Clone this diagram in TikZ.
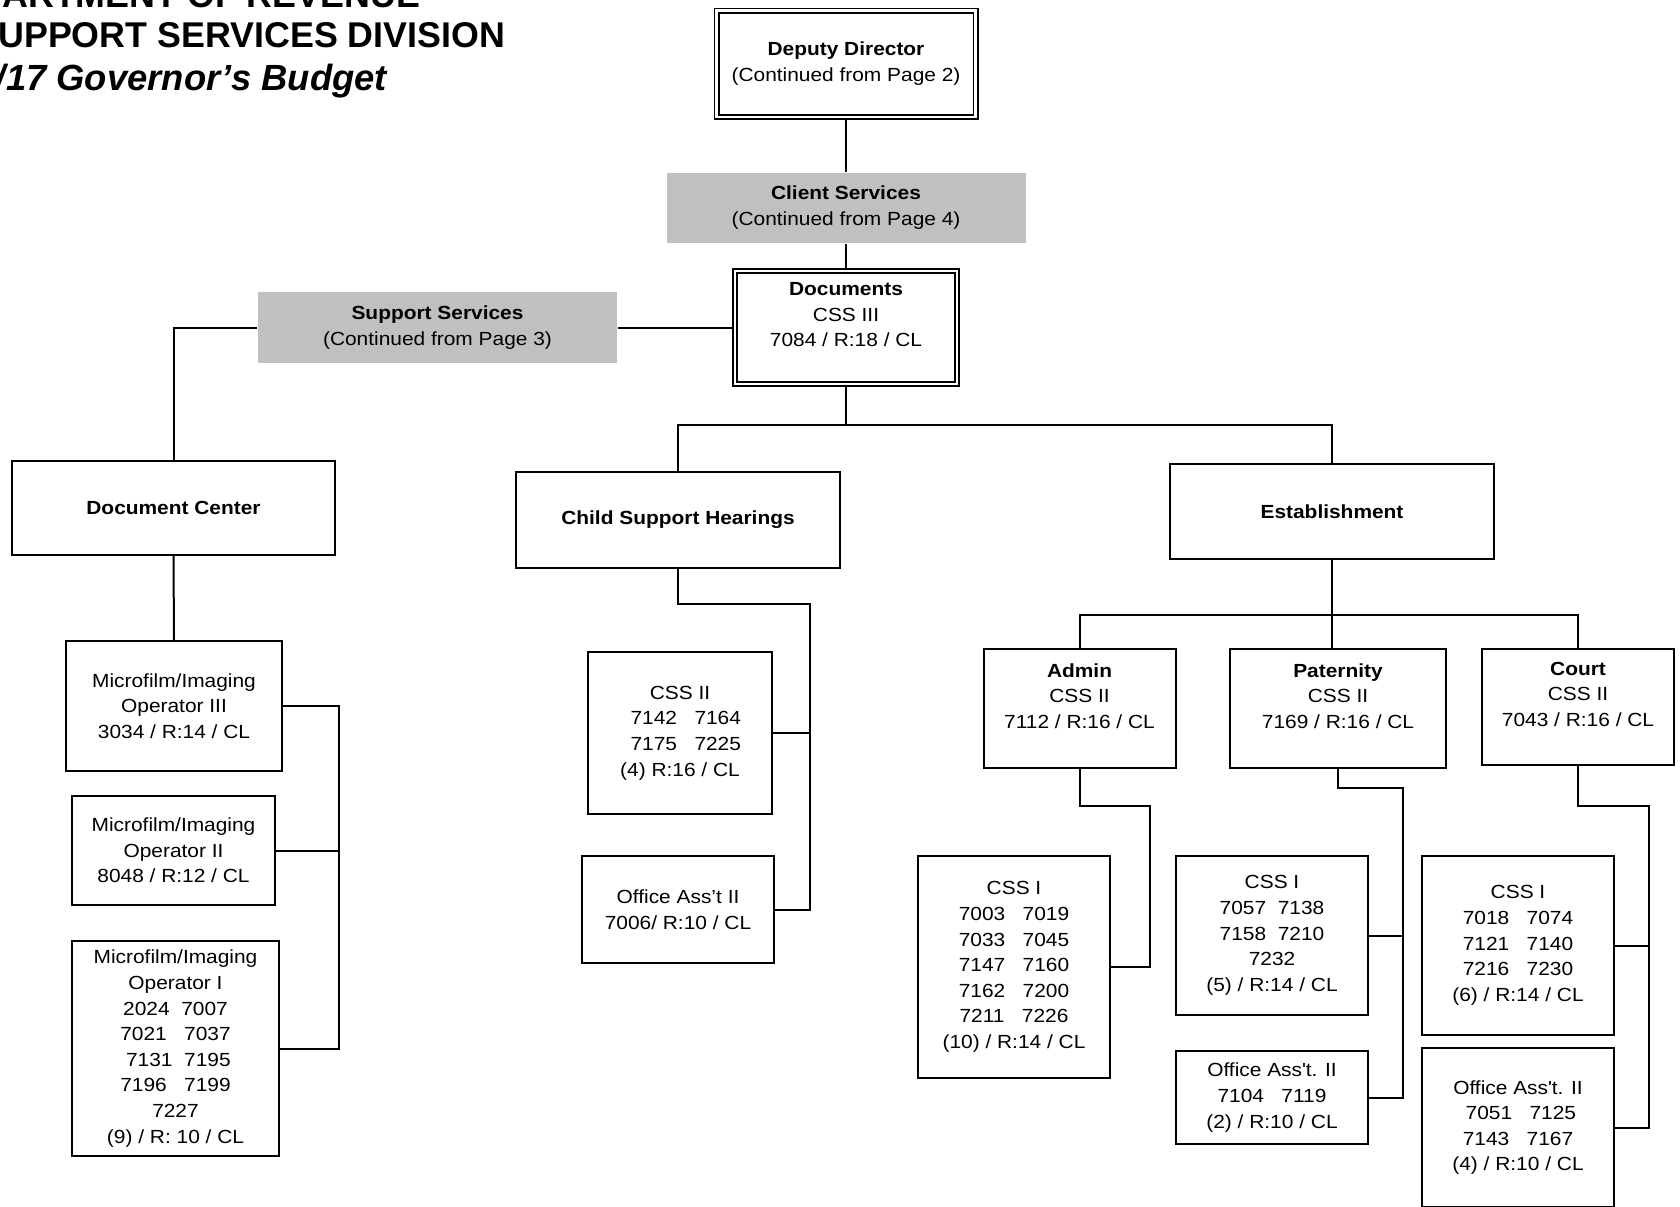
\documentclass[tikz,border=0pt]{standalone}
\usepackage{fontspec}
\setmainfont[FakeStretch=1.1]{Liberation Sans}
\newfontfamily\titlefont{Liberation Sans}
\usetikzlibrary{positioning}

\definecolor{headgray}{RGB}{192,192,192}

\begin{document}
\begin{tikzpicture}[x=0.5pt, y=-0.5pt,
    line width=1pt,
    txt/.style={font=\fontsize{9.5pt}{12.8pt}\selectfont, align=center, inner sep=0pt},
    box/.style={txt, draw},
    dbox/.style={txt, draw, line width=0.8pt, double, double distance=1.4pt},
    graybox/.style={txt, fill=headgray},
    title/.style={font=\titlefont\fontsize{17.9pt}{21pt}\selectfont\bfseries, anchor=base east, inner sep=0pt}
]
    \useasboundingbox (0,0) rectangle (1680,1206);

    %titulo (cortado na margem)
    \node[title] (tit1) at (421,7.3) {ARTMENT OF REVENUE};
    \node[title] (tit2) at (506,47.3) {UPPORT SERVICES DIVISION};
    \node[title, font=\titlefont\fontsize{18.2pt}{21pt}\selectfont\bfseries\itshape] (tit3) at (388,90.7) {/17 Governor’s Budget};

    %topo
    \node[dbox, minimum width=129.5pt, minimum height=53.25pt] (deputy) at (846,63.75)
        {\textbf{Deputy Director}\\(Continued from Page 2)};
    \node[graybox, minimum width=179.5pt, minimum height=35.25pt] (client) at (846,207.75)
        {\textbf{Client Services}\\(Continued from Page 4)};
    \node[dbox, minimum width=111pt, minimum height=56.5pt] (docs) at (846,327.5)
        {\textbf{Documents}\\CSS III\\7084 / R:18 / CL\\\mbox{}};
    \node[graybox, minimum width=179.5pt, minimum height=35.25pt] (support) at (437.5,327.5)
        {\textbf{Support Services}\\(Continued from Page 3)};

    %secoes
    \node[box, minimum width=161.5pt, minimum height=47pt] (doccenter) at (173.5,508)
        {\textbf{Document Center}};
    \node[box, minimum width=162pt, minimum height=47.75pt] (hearings) at (678,520)
        {\textbf{Child Support Hearings}};
    \node[box, minimum width=162pt, minimum height=47.5pt] (estab) at (1332,511.5)
        {\textbf{Establishment}};

    %document center
    \node[box, minimum width=108pt, minimum height=65pt] (micro3) at (174,706)
        {Microfilm/Imaging\\Operator III\\3034 / R:14 / CL};
    \node[box, minimum width=101.5pt, minimum height=54.5pt] (micro2) at (173.5,850.5)
        {Microfilm/Imaging\\Operator II\\8048 / R:12 / CL};
    \node[box, minimum width=103.5pt, minimum height=107.5pt] (micro1) at (175.5,1048.5)
        {Microfilm/Imaging\\Operator I\\2024\ \ 7007\\7021\ \ \ 7037\\\ 7131\ \ 7195\\7196\ \ \ 7199\\7227\\(9) / R: 10 / CL};

    %hearings
    \node[box, minimum width=92.25pt, minimum height=80.75pt] (hcss2) at (680,733)
        {CSS II\\\ \ 7142\ \ \ 7164\\\ \ 7175\ \ \ 7225\\(4) R:16 / CL};
    \node[box, minimum width=95.75pt, minimum height=53.5pt] (hoffice) at (678,909.5)
        {Office Ass’t II\\7006/ R:10 / CL};

    %establishment
    \node[box, minimum width=96pt, minimum height=59.5pt] (admin) at (1079.5,708.5)
        {\textbf{Admin}\\CSS II\\7112 / R:16 / CL\\\mbox{}};
    \node[box, minimum width=108pt, minimum height=59.5pt] (pat) at (1338,708.5)
        {\textbf{Paternity}\\CSS II\\7169 / R:16 / CL\\\mbox{}};
    \node[box, minimum width=95.75pt, minimum height=58pt] (court) at (1578,707)
        {\textbf{Court}\\CSS II\\7043 / R:16 / CL\\\mbox{}};

    \node[box, minimum width=96pt, minimum height=111pt] (acss1) at (1014,967)
        {CSS I\\7003\ \ \ 7019\\7033\ \ \ 7045\\7147\ \ \ 7160\\7162\ \ \ 7200\\7211\ \ \ 7226\\(10) / R:14 / CL};
    \node[box, minimum width=96pt, minimum height=79.5pt] (pcss1) at (1272,935.5)
        {CSS I\\7057\ \ 7138\\7158\ \ 7210\\7232\\(5) / R:14 / CL};
    \node[box, minimum width=96pt, minimum height=46.5pt] (poffice) at (1272,1097.5)
        {Office Ass\textquotesingle t. II\\7104\ \ \ 7119\\(2) / R:10 / CL};
    \node[box, minimum width=95.75pt, minimum height=89.5pt] (ccss1) at (1518,945.5)
        {CSS I\\7018\ \ \ 7074\\7121\ \ \ 7140\\7216\ \ \ 7230\\(6) / R:14 / CL};
    \node[box, minimum width=96pt, minimum height=79.5pt] (coffice) at (1518,1127.5)
        {Office Ass\textquotesingle t. II\\\ 7051\ \ \ 7125\\7143\ \ \ 7167\\(4) / R:10 / CL};

    %pontos de ligacao
    \coordinate (docsbus) at (846,425);
    \coordinate (estbus) at (1332,615);
    \coordinate (mturn) at (338.5,706);
    \coordinate (hturn) at (810,604);
    \coordinate (aturn) at (1150,806);
    \coordinate (pturn) at (1402.5,787.5);
    \coordinate (cturn) at (1649,806);

    %linhas
    \draw (deputy.south) -- (client.north);
    \draw (client.south) -- (docs.north);
    \draw (support.east) -- (docs.west);
    \draw (support.west) -| (doccenter.north);
    \draw (docs.south) -- (docsbus);
    \draw (hearings.north) |- (docsbus) -| (estab.north);
    \draw (doccenter.south) -- (micro3.north);
    \draw (micro3.east) -- (mturn) |- (micro1.east);
    \draw (hearings.south) |- (hturn) |- (hoffice.east);
    \draw (estab.south) -- (estab.south |- pat.north);
    \draw (admin.north) |- (estbus) -| (court.north);
    \draw (admin.south) |- (aturn) |- (acss1.east);
    \draw (pat.south) |- (pturn) |- (poffice.east);
    \draw (court.south) |- (cturn) |- (coffice.east);

    \foreach \a/\b in {micro2/mturn, hcss2/hturn, pcss1/pturn, ccss1/cturn} {
        \draw (\a.east) -- (\a.east -| \b);
    }
\end{tikzpicture}
\end{document}
